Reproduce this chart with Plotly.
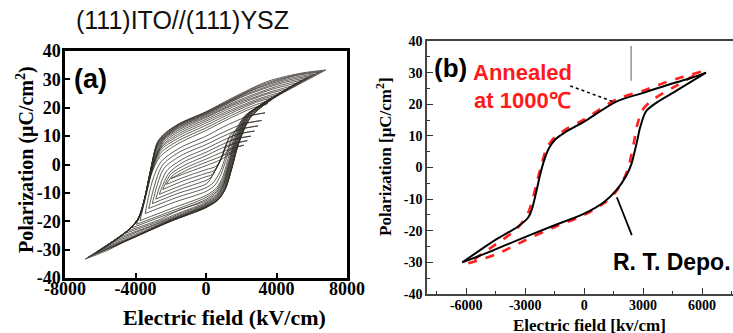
import plotly.graph_objects as go

# ---------------- Panel (a): nested P-E loops, (111)ITO//(111)YSZ ----------------
# each loop: upper branch (from +tip to -tip) and lower branch (from -tip to +tip)
a_up_E = [
    [1700, 800, 0, -1000, -2000],
    [2150, 1400, 700, 0, -1200, -1900, -2250],
    [2350, 1500, 700, 0, -1200, -2000, -2450],
    [2550, 1650, 800, 0, -1300, -2100, -2650],
    [2750, 1800, 900, 0, -1300, -2250, -2850],
    [2950, 2000, 1000, 0, -1400, -2400, -3050],
    [3150, 2100, 1000, 0, -1500, -2500, -3250],
    [3350, 2300, 1000, 0, -1500, -2550, -3050, -3450],
    [3500, 2600, 1200, 0, -1500, -2600, -3100, -3400, -3750],
    [3700, 2700, 1300, 0, -1500, -2550, -3000, -3330, -3650, -3950],
    [3950, 2800, 1400, 0, -1500, -2500, -2900, -3250, -3550, -3850, -4200],
    [4200, 2900, 1450, 0, -1500, -2480, -2880, -3220, -3520, -3820, -4200, -4450],
    [4450, 3000, 1500, 0, -1500, -2450, -2850, -3200, -3500, -3800, -4200, -4700],
    [4700, 3200, 1500, 0, -1500, -2420, -2820, -3200, -3500, -3800, -4250, -4950],
    [4950, 3500, 1500, 0, -1500, -2400, -2800, -3200, -3500, -3800, -4300, -5200],
    [5200, 3700, 1800, 0, -1500, -2380, -2800, -3200, -3500, -3800, -4300, -5450],
    [5450, 4000, 2000, 0, -1500, -2350, -2800, -3200, -3500, -3800, -4300, -5700],
    [5700, 4200, 2200, 0, -1500, -2320, -2800, -3200, -3500, -3800, -4300, -5900],
    [5950, 4500, 2500, 0, -1500, -2300, -2800, -3200, -3500, -3800, -4300, -6150],
    [6150, 4700, 2700, 0, -1500, -2300, -2780, -3170, -3500, -3800, -4300, -6300],
    [6400, 5000, 3000, 0, -1500, -2300, -2750, -3150, -3500, -3800, -4300, -6500],
    [6600, 5200, 3200, 0, -1500, -2300, -2750, -3150, -3500, -3800, -4300, -6700],
    [6800, 5500, 3500, 1500, 0, -1500, -2300, -2750, -3150, -3500, -3800, -4300, -5500, -6850],
]
a_up_P = [
    [5.2, 2.7, 0.8, -1.7, -5.0],
    [6.8, 5.6, 3.8, 1.9, -1.3, -3.9, -7.0],
    [8.4, 7.3, 5.2, 3.1, -0.2, -3.4, -8.8],
    [10.0, 9.0, 6.7, 4.3, 0.8, -3.0, -10.5],
    [11.8, 10.7, 8.3, 5.6, 2.0, -2.4, -12.2],
    [13.6, 12.5, 10.0, 7.0, 3.2, -1.5, -13.8],
    [15.5, 14.3, 11.4, 8.4, 4.4, -0.5, -15.5],
    [18.2, 16.8, 13.3, 10.0, 5.8, 1.0, -6.0, -17.3],
    [21.5, 19.8, 15.8, 12.0, 7.6, 2.8, -3.5, -11.0, -19.8],
    [22.7, 20.8, 16.9, 12.9, 8.6, 4.2, -1.2, -8.5, -16.5, -21.1],
    [23.8, 21.8, 18.0, 13.8, 9.5, 5.5, 1.0, -6.0, -13.5, -19.0, -22.3],
    [24.8, 22.5, 18.8, 14.6, 10.3, 6.3, 1.8, -5.5, -13.0, -18.8, -22.0, -23.4],
    [25.8, 23.2, 19.5, 15.3, 11.0, 7.0, 2.5, -5.0, -12.5, -18.5, -21.8, -24.5],
    [26.8, 24.3, 20.2, 15.9, 11.7, 7.8, 3.3, -4.7, -12.5, -18.5, -22.2, -25.7],
    [27.8, 25.3, 20.8, 16.5, 12.3, 8.5, 4.0, -4.5, -12.5, -18.5, -22.5, -26.8],
    [28.8, 26.4, 22.0, 16.9, 12.8, 9.0, 4.8, -4.2, -12.5, -18.6, -22.5, -27.8],
    [29.8, 27.5, 23.0, 17.3, 13.2, 9.5, 5.5, -4.0, -12.5, -18.6, -22.6, -28.8],
    [30.6, 28.5, 24.2, 17.6, 13.5, 9.9, 6.0, -3.7, -12.5, -18.6, -22.6, -29.7],
    [31.3, 29.5, 25.3, 17.9, 13.8, 10.2, 6.5, -3.5, -12.5, -18.7, -22.6, -30.6],
    [31.9, 30.3, 26.3, 18.1, 14.0, 10.5, 7.0, -3.0, -12.5, -18.7, -22.6, -31.3],
    [32.5, 31.2, 27.3, 18.3, 14.2, 10.8, 7.5, -2.5, -12.5, -18.8, -22.6, -32.0],
    [32.9, 31.7, 28.2, 18.5, 14.4, 11.0, 7.8, -2.2, -12.5, -18.8, -22.6, -32.7],
    [33.3, 32.3, 29.3, 23.5, 18.6, 14.5, 11.2, 8.0, -2.0, -12.5, -18.8, -22.6, -28.4, -33.3],
]
a_lo_E = [
    [-2000, -1000, 0, 800, 1700],
    [-2250, -1200, 0, 600, 1000, 1500, 2150],
    [-2450, -1300, 0, 450, 800, 1150, 1600, 2350],
    [-2650, -1400, 0, 350, 800, 1250, 1700, 2550],
    [-2850, -1500, 0, 250, 800, 1350, 1850, 2750],
    [-3050, -1600, 0, 200, 800, 1450, 2000, 2950],
    [-3250, -1700, 0, 400, 800, 1200, 1600, 2150, 3150],
    [-3450, -1800, 0, 500, 850, 1200, 1600, 2200, 3350],
    [-3750, -2000, 0, 600, 950, 1250, 1650, 2200, 3500],
    [-3950, -2200, 0, 600, 980, 1280, 1680, 2250, 3700],
    [-4200, -2500, 0, 600, 1000, 1300, 1700, 2300, 3950],
    [-4450, -2700, -1500, 0, 600, 1000, 1300, 1700, 2300, 3100, 4200],
    [-4700, -3000, -1500, 0, 600, 1000, 1300, 1700, 2300, 3200, 4450],
    [-4950, -3200, -1500, 0, 600, 1000, 1330, 1730, 2330, 3250, 4700],
    [-5200, -3500, -1500, 0, 600, 1000, 1350, 1750, 2350, 3300, 4950],
    [-5450, -3700, -1700, 0, 600, 1030, 1380, 1780, 2380, 3350, 5200],
    [-5700, -4000, -2000, 0, 600, 1050, 1400, 1800, 2400, 3400, 5450],
    [-5900, -4200, -2000, 0, 630, 1080, 1430, 1830, 2430, 3450, 5700],
    [-6150, -4500, -2000, 0, 650, 1100, 1450, 1850, 2450, 3500, 5950],
    [-6300, -4700, -2000, 0, 680, 1100, 1450, 1850, 2480, 3550, 6150],
    [-6500, -5000, -2000, 0, 700, 1100, 1450, 1850, 2500, 3600, 6400],
    [-6700, -5200, -2000, 0, 700, 1100, 1450, 1850, 2500, 3650, 6600],
    [-6850, -5500, -4100, -2000, 0, 700, 1100, 1450, 1850, 2500, 3700, 5200, 6800],
]
a_lo_P = [
    [-5.0, -2.7, -0.4, 1.6, 5.0],
    [-7.0, -4.4, -1.8, -0.5, 3.5, 5.6, 6.8],
    [-8.8, -5.8, -3.1, -2.2, 1.2, 6.0, 7.3, 8.4],
    [-10.5, -7.4, -4.3, -3.5, 1.3, 7.8, 9.0, 10.0],
    [-12.2, -8.8, -5.6, -4.7, 1.3, 9.5, 10.7, 11.8],
    [-13.8, -10.2, -6.9, -5.6, 1.2, 11.0, 12.5, 13.6],
    [-15.5, -11.7, -8.2, -6.5, -2.5, 4.5, 11.5, 14.2, 15.5],
    [-17.3, -13.3, -9.5, -7.3, -3.5, 3.0, 11.0, 16.5, 18.2],
    [-19.8, -15.6, -10.9, -8.2, -4.3, 2.0, 10.5, 17.2, 21.5],
    [-21.1, -17.0, -11.6, -8.9, -4.9, 1.2, 10.0, 17.3, 22.7],
    [-22.3, -18.3, -12.3, -9.5, -5.5, 0.5, 9.5, 17.5, 23.8],
    [-23.4, -19.6, -16.0, -12.8, -10.0, -6.2, 0.0, 9.0, 17.2, 21.0, 24.8],
    [-24.5, -20.8, -17.0, -13.3, -10.6, -6.8, -0.5, 8.5, 17.0, 21.5, 25.8],
    [-25.7, -21.8, -17.4, -13.7, -11.0, -7.2, -0.7, 8.3, 17.0, 21.7, 26.8],
    [-26.8, -22.8, -17.8, -14.0, -11.4, -7.6, -0.8, 8.2, 17.0, 21.8, 27.8],
    [-27.8, -23.8, -18.6, -14.3, -11.7, -7.8, -0.9, 8.1, 17.0, 21.9, 28.8],
    [-28.8, -25.0, -19.5, -14.5, -12.0, -8.0, -1.0, 8.0, 17.0, 22.0, 29.8],
    [-29.7, -25.8, -19.7, -14.7, -12.2, -8.2, -1.1, 7.9, 16.9, 22.2, 30.6],
    [-30.6, -26.6, -19.8, -14.9, -12.3, -8.3, -1.2, 7.8, 16.8, 22.3, 31.3],
    [-31.3, -27.4, -19.9, -15.0, -12.3, -8.4, -1.4, 7.6, 16.6, 22.4, 31.9],
    [-32.0, -28.2, -20.0, -15.1, -12.3, -8.5, -1.5, 7.5, 16.5, 22.5, 32.5],
    [-32.7, -28.8, -20.0, -15.2, -12.4, -8.6, -1.6, 7.4, 16.4, 22.6, 32.9],
    [-33.3, -30.0, -25.5, -20.0, -15.2, -12.4, -8.6, -1.8, 7.2, 16.3, 22.8, 28.0, 33.3],
]
a_xticks = [-8000, -4000, 0, 4000, 8000]
a_xticktext = ["-8000", "-4000", "0", "4000", "8000"]
a_yticks = [-40, -30, -20, -10, 0, 10, 20, 30, 40]
a_yticktext = ["-40", "-30", "-20", "-10", "0", "10", "20", "30", "40"]

# ---------------- Panel (b): R.T. deposited vs annealed at 1000 C ----------------
rt_up_E = [6200, 5400, 4400, 3000, 1660, 0, -1000, -1450, -1800, -2050, -2250, -2450, -2650, -2850, -3400, -4500, -6200]
rt_up_P = [30.0, 28.2, 26.4, 23.6, 20.9, 14.5, 11.0, 9.0, 6.0, 2.0, -2.5, -8.0, -13.0, -15.8, -18.8, -22.8, -30.0]
rt_lo_E = [-6200, -4950, -3600, -1730, 0, 1000, 1660, 2150, 2400, 2550, 2700, 2850, 3150, 3700, 4700, 6200]
rt_lo_P = [-30.0, -27.0, -23.5, -18.8, -14.6, -11.0, -7.0, -2.5, 1.0, 4.5, 8.5, 12.7, 17.8, 20.6, 24.3, 30.0]

an_up_E = [5950, 5000, 4000, 3000, 1660, 0, -1000, -1500, -1900, -2150, -2400, -2600, -2800, -3000, -3500, -4500, -5900]
an_up_P = [30.3, 28.6, 26.6, 24.3, 21.6, 15.2, 11.8, 9.6, 6.2, 1.5, -4.5, -9.5, -13.5, -16.0, -19.8, -24.3, -30.3]
an_lo_E = [-5900, -4500, -3000, -1500, 0, 1000, 1600, 2000, 2250, 2400, 2550, 2700, 2950, 3400, 4500, 5950]
an_lo_P = [-30.3, -27.5, -23.0, -18.8, -15.0, -11.3, -7.8, -3.8, 0.0, 4.0, 8.5, 13.5, 18.0, 21.0, 25.2, 30.3]

b_xticks = [-6000, -3000, 0, 3000, 6000]
b_xticktext = ["-6000", "-3000", "0", "3000", "6000"]
b_xminor = [-7500, -4500, -1500, 1500, 4500, 7500]
b_yticks = [-40, -30, -20, -10, 0, 10, 20, 30, 40]
b_yticktext = ["-40", "-30", "-20", "-10", "0", "10", "20", "30", "40"]
b_yminor = [-35, -25, -15, -5, 5, 15, 25, 35]

fig = go.Figure()

loop_color = "rgba(48,45,38,0.85)"
for E, P in zip(a_up_E + a_lo_E, a_up_P + a_lo_P):
    fig.add_trace(go.Scatter(x=E, y=P, mode="lines", xaxis="x", yaxis="y",
                             line=dict(color=loop_color, width=0.9, shape="spline", smoothing=0.8),
                             showlegend=False, hoverinfo="skip"))

for E, P in [(an_up_E, an_up_P), (an_lo_E, an_lo_P)]:
    fig.add_trace(go.Scatter(x=E, y=P, mode="lines", xaxis="x2", yaxis="y2",
                             line=dict(color="#ff2020", width=2.6, dash="dash", shape="spline", smoothing=0.8),
                             showlegend=False, hoverinfo="skip"))
for E, P in [(rt_up_E, rt_up_P), (rt_lo_E, rt_lo_P)]:
    fig.add_trace(go.Scatter(x=E, y=P, mode="lines", xaxis="x2", yaxis="y2",
                             line=dict(color="black", width=2.0, shape="spline", smoothing=0.8),
                             showlegend=False, hoverinfo="skip"))

W, H = 733, 333
serif = "Liberation Serif"
sans = "Liberation Sans"

common = dict(showgrid=False, zeroline=False, automargin=False, tickmode="array")
fig.update_layout(
    width=W, height=H, margin=dict(l=0, r=0, t=0, b=0, autoexpand=False),
    paper_bgcolor="white", plot_bgcolor="white",
    xaxis=dict(domain=[65 / W, 347 / W], range=[-8000, 8000],
               tickvals=a_xticks, ticktext=a_xticktext, ticks="inside", ticklen=5, tickwidth=2,
               tickcolor="black", showline=True, linecolor="black", linewidth=2.5, mirror=True,
               ticklabelstandoff=-7,
               tickfont=dict(family=serif, size=18, color="black", weight="bold"), **common),
    yaxis=dict(domain=[1 - 278 / H, 1 - 51 / H], range=[-40, 40],
               tickvals=a_yticks, ticktext=a_yticktext, ticks="inside", ticklen=5, tickwidth=2,
               tickcolor="black", showline=True, linecolor="black", linewidth=2.5, mirror=True,
               ticklabelstandoff=-2,
               tickfont=dict(family=serif, size=18, color="black", weight="bold"), **common),
    xaxis2=dict(domain=[427 / W, 1.0], range=[-8000, 7576], anchor="y2",
                tickvals=b_xticks, ticktext=b_xticktext, ticks="inside", ticklen=6, tickwidth=1.2,
                tickcolor="#333", showline=True, linecolor="#444", linewidth=1.5, mirror=True,
                ticklabelstandoff=-3,
                minor=dict(tickvals=b_xminor, ticks="inside", ticklen=3, tickcolor="#333", tickwidth=1),
                tickfont=dict(family=serif, size=14, color="black", weight="bold"), **common),
    yaxis2=dict(domain=[1 - 294 / H, 1 - 41 / H], range=[-40, 40], anchor="x2",
                tickvals=b_yticks, ticktext=b_yticktext, ticks="inside", ticklen=6, tickwidth=1.2,
                tickcolor="#333", showline=True, linecolor="#444", linewidth=1.5,
                minor=dict(tickvals=b_yminor, ticks="inside", ticklen=3, tickcolor="#333", tickwidth=1),
                tickfont=dict(family=serif, size=14, color="black", weight="bold"), **common),
)

ann = [
    dict(text="(111)ITO//(111)YSZ", x=182 / W, y=1 - 20 / H, xref="paper", yref="paper",
         font=dict(family=sans, size=25, color="#111")),
    dict(text="Electric field (kV/cm)", x=225 / W, y=1 - 317 / H, xref="paper", yref="paper",
         font=dict(family=serif, size=22, color="black", weight="bold")),
    dict(text="Polarization (μC/cm<sup>2</sup>)", x=25 / W, y=1 - 160 / H, xref="paper", yref="paper",
         textangle=-90, font=dict(family=serif, size=20, color="black", weight="bold")),
    dict(text="(a)", x=-6550, y=30, xref="x", yref="y",
         font=dict(family=sans, size=27, color="black", weight="bold")),
    dict(text="Electric field [kv/cm]", x=589 / W, y=1 - 325 / H, xref="paper", yref="paper",
         font=dict(family=serif, size=17, color="black", weight="bold")),
    dict(text="Polarization [μC/cm<sup>2</sup>]", x=384 / W, y=1 - 157 / H, xref="paper", yref="paper",
         textangle=-90, font=dict(family=serif, size=17, color="black", weight="bold")),
    dict(text="(b)", x=-6800, y=31.5, xref="x2", yref="y2",
         font=dict(family=sans, size=26, color="black", weight="bold")),
    dict(text="Annealed", x=-3150, y=29.9, xref="x2", yref="y2",
         font=dict(family=sans, size=22, color="#ff1a1a", weight="bold")),
    dict(text="at 1000℃", x=-3150, y=21.1, xref="x2", yref="y2",
         font=dict(family=sans, size=22, color="#ff1a1a", weight="bold")),
    dict(text="R. T. Depo.", x=4450, y=-29.9, xref="x2", yref="y2",
         font=dict(family=sans, size=23, color="black", weight="bold")),
]
for a in ann:
    a.setdefault("showarrow", False)
    a.setdefault("xanchor", "center")
    a.setdefault("yanchor", "middle")
    fig.add_annotation(**a)

fig.add_shape(type="line", x0=-712, y0=25.8, x1=1576, y1=20.6, xref="x2", yref="y2",
              line=dict(color="black", width=1.5, dash="dot"))
fig.add_shape(type="line", x0=1662, y0=-9.4, x1=2425, y1=-21.4, xref="x2", yref="y2",
              line=dict(color="black", width=1.8))
fig.add_shape(type="line", x0=2390, y0=38.4, x1=2390, y1=27.4, xref="x2", yref="y2",
              line=dict(color="#777", width=1.2))

fig.write_html("out.html")
